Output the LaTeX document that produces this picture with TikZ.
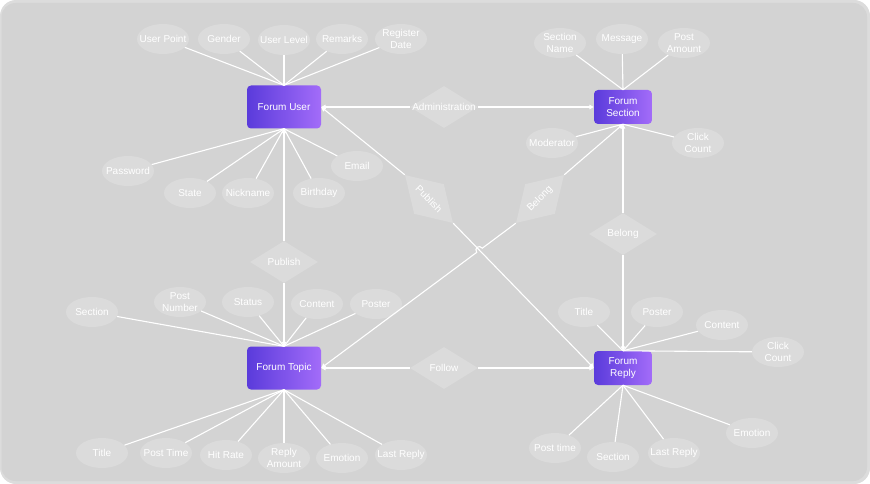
\documentclass[tikz,border=0pt]{standalone}
\usepackage{fontspec}
\setmainfont{Liberation Sans}
\usetikzlibrary{shapes.geometric,arrows.meta,calc}

\definecolor{sfondo}{HTML}{D3D3D3}
\definecolor{bordo}{HTML}{DCDCDC}
\definecolor{chiaro}{HTML}{DBDBDB}
\definecolor{violaA}{HTML}{5A3BDB}
\definecolor{violaB}{HTML}{A36CF9}

\begin{document}
\begin{tikzpicture}[
    x=1pt,y=-1pt,
    font=\fontsize{10}{11.5}\selectfont,
    arco/.style={draw=white,line width=1.1pt},
    freccia/.style={arco,-{Triangle[length=4.5pt,width=4.5pt]}},
    entita/.style={rectangle,rounded corners=4pt,left color=violaA,right color=violaB,
                   text=white,align=center,inner sep=0pt,
                   minimum width=74pt,minimum height=43pt},
    piccola/.style={minimum width=58pt,minimum height=34pt},
    attributo/.style={ellipse,fill=chiaro,text=white,align=center,
                      minimum width=52pt,minimum height=30pt,
                      inner xsep=-20pt,inner ysep=0pt},
    relazione/.style={diamond,fill=chiaro,text=white,
                      minimum width=68pt,minimum height=42pt,
                      inner xsep=-40pt,inner ysep=0pt}]

  % ---- sfondo ----------------------------------------------------------
  \useasboundingbox (0,0) rectangle (870,484);
  \fill[bordo,rounded corners=16pt] (0,0) rectangle (870,484);
  \fill[sfondo,rounded corners=14pt] (1.5,3) rectangle (867,481);

  % ---- entita' ---------------------------------------------------------
  \node[entita]         (user)  at (284,107) {Forum User};
  \node[entita,piccola] (sec)   at (623,107) {Forum\\Section};
  \node[entita]         (topic) at (284,368) {Forum Topic};
  \node[entita,piccola] (reply) at (623,368) {Forum\\Reply};

  % ---- relazioni -------------------------------------------------------
  \node[relazione]           (admD)  at (444,107) {Administration};
  \node[relazione]           (pubV)  at (284,262) {Publish};
  \node[relazione]           (belV)  at (623,234) {Belong};
  \node[relazione]           (follD) at (444,368) {Follow};
  \node[relazione,rotate=-45] (pubD) at (429,199) {Publish};
  \node[relazione,rotate=45]  (belD) at (540,199) {Belong};

  % ---- attributi: Forum User -------------------------------------------
  \node[attributo] (uPoint)    at (163,39)  {User Point};
  \node[attributo] (uGender)   at (224,39)  {Gender};
  \node[attributo] (uLevel)    at (284,40)  {User Level};
  \node[attributo] (uRemarks)  at (342,39)  {Remarks};
  \node[attributo] (uRegister) at (401,39)  {Register\\Date};
  \node[attributo] (uPassword) at (128,171) {Password};
  \node[attributo] (uState)    at (190,193) {State};
  \node[attributo] (uNick)     at (248,193) {Nickname};
  \node[attributo] (uBirth)    at (319,193) {Birthday};
  \node[attributo] (uEmail)    at (357,166) {Email};

  % ---- attributi: Forum Section ----------------------------------------
  \node[attributo] (sName)      at (560,43)  {Section\\Name};
  \node[attributo] (sMessage)   at (622,39)  {Message};
  \node[attributo] (sPostAmt)   at (684,43)  {Post\\Amount};
  \node[attributo] (sModerator) at (552,143) {Moderator};
  \node[attributo] (sClick)     at (698,143) {Click\\Count};

  % ---- attributi: Forum Topic ------------------------------------------
  \node[attributo] (tSection)   at (92,312)  {Section};
  \node[attributo] (tPostNum)   at (180,302) {Post\\Number};
  \node[attributo] (tStatus)    at (248,302) {Status};
  \node[attributo] (tContent)   at (317,304) {Content};
  \node[attributo] (tPoster)    at (376,304) {Poster};
  \node[attributo] (tTitle)     at (102,453) {Title};
  \node[attributo] (tPostTime)  at (166,453) {Post Time};
  \node[attributo] (tHitRate)   at (226,455) {Hit Rate};
  \node[attributo] (tReplyAmt)  at (284,458) {Reply\\Amount};
  \node[attributo] (tEmotion)   at (342,458) {Emotion};
  \node[attributo] (tLastReply) at (401,455) {Last Reply};

  % ---- attributi: Forum Reply ------------------------------------------
  \node[attributo] (rTitle)     at (584,312) {Title};
  \node[attributo] (rPoster)    at (657,312) {Poster};
  \node[attributo] (rContent)   at (722,325) {Content};
  \node[attributo] (rClick)     at (778,352) {Click\\Count};
  \node[attributo] (rPostTime)  at (555,448) {Post time};
  \node[attributo] (rSection)   at (613,457) {Section};
  \node[attributo] (rLastReply) at (674,453) {Last Reply};
  \node[attributo] (rEmotion)   at (752,433) {Emotion};

  % ---- archi degli attributi -------------------------------------------
  \foreach \a in {uPoint,uGender,uLevel,uRemarks,uRegister}
    \draw[arco] (\a) -- (user.north);
  \foreach \a in {uPassword,uState,uNick,uBirth,uEmail}
    \draw[arco] (\a) -- (user.south);
  \foreach \a in {sName,sMessage,sPostAmt}
    \draw[arco] (\a) -- (sec.north);
  \foreach \a in {sModerator,sClick}
    \draw[arco] (\a) -- (sec.south);
  \foreach \a in {tSection,tPostNum,tStatus,tContent,tPoster}
    \draw[arco] (\a) -- (topic.north);
  \foreach \a in {tTitle,tPostTime,tHitRate,tReplyAmt,tEmotion,tLastReply}
    \draw[arco] (\a) -- (topic.south);
  \foreach \a in {rTitle,rPoster,rContent,rClick}
    \draw[arco] (\a) -- (reply.north);
  \foreach \a in {rPostTime,rSection,rLastReply,rEmotion}
    \draw[arco] (\a) -- (reply.south);

  % ---- archi delle relazioni -------------------------------------------
  \draw[freccia] (admD.west)  -- (user.east);
  \draw[freccia] (admD.east)  -- (sec.west);
  \draw[freccia] (pubV.north) -- (user.south);
  \draw[freccia] (pubV.south) -- (topic.north);
  \draw[freccia] (belV.north) -- (sec.south);
  \draw[freccia] (belV.south) -- (reply.north);
  \draw[freccia] (follD.west) -- (topic.east);
  \draw[freccia] (follD.east) -- (reply.west);
  \draw[freccia] (pubD.west)  -- (user.east);
  \draw[freccia] (pubD.east)  -- (reply.west);
  \draw[freccia] (belD.east)  -- (sec.south);

  % (a) incrocio: piccolo salto sulla linea di "Belong"
  \coordinate (salto) at (intersection of pubD.east--reply.west and belD.west--topic.east);
  \coordinate (s1) at ($(salto)!3.5pt!(belD.west)$);
  \coordinate (s2) at ($(salto)!3.5pt!(topic.east)$);
  \draw[freccia] (belD.west) -- (s1)
    .. controls ($(s1)!5pt!-90:(salto)$) and ($(s2)!5pt!90:(salto)$) .. (s2)
    -- (topic.east);

\end{tikzpicture}
\end{document}
